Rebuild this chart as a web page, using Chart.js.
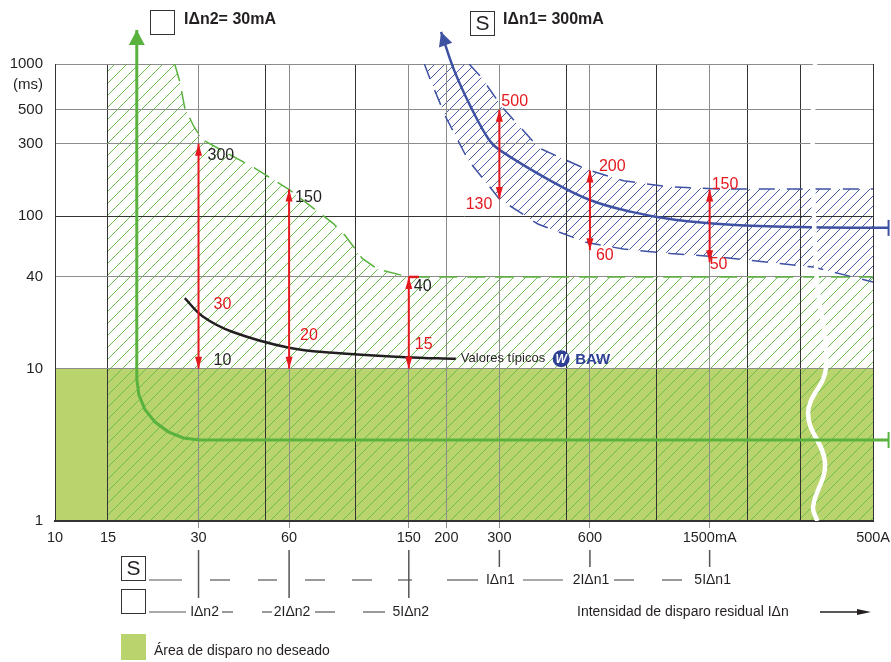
<!DOCTYPE html>
<html>
<head>
<meta charset="utf-8">
<script src="https://cdn.jsdelivr.net/npm/chart.js@4/dist/chart.umd.min.js"></script>
<style>
  html, body { margin: 0; padding: 0; background: #fff; }
</style>
</head>
<body>
<canvas id="trip-chart" width="891" height="662"></canvas>
<script>
const FONT = '"Liberation Sans", Arial, Helvetica, sans-serif';
const INK = "#231f20";
const RED = "#e3191f";
const GREEN = "#5ab23e";
const LIME = "#b9d46c";
const BLUE = "#3f51a3";

// x axis: residual current in mA, broken before the right border which stands for 500 A
const xEnd = 5240;
const xTickValues = [10, 15, 30, 50, 60, 100, 150, 200, 300, 500, 600, 1000, 1500, 2000, 3000, xEnd];
const xTickText = ["10", "15", "30", "", "60", "", "150", "200", "300", "", "600", "", "1500mA", "", "", "500A"];
const xGreyLines = [30, 60, 150, 200, 300, 600, 1500];

// y axis: trip time in ms
const yTickValues = [1, 10, 40, 100, 300, 500, 730, 1000];
const yTickText = ["1", "10", "40", "100", "300", "500", "(ms)", "1000"];

// green hatched zone, 30 mA device (current mA / time ms)
const zoneI = [15, 25, 26, 27, 29, 31, 46, 52, 60, 84, 92, 105, 118, 150, xEnd];
const zoneT = [1000, 1000, 763, 515, 386, 317, 208, 179, 150, 90, 75, 53, 45, 40, 40];

// blue hatched band, selective 300 mA device
const bandLowI = [169, 178, 199, 236, 300, 403, 590, 776, 1111, 1627, 3311, xEnd];
const bandLowT = [1000, 763, 449, 235, 130, 89, 67, 61, 57, 54, 46.5, 37];
const bandHighI = [169, 238, 262, 306, 406, 590, 776, 1111, 1603, xEnd];
const bandHighT = [1000, 1000, 811, 523, 281, 202, 171, 156, 151, 151];

// typical values curve
const typI = [27, 31, 39, 60, 84, 146, 215];
const typT = [29, 22, 17.4, 13.7, 12.7, 11.9, 11.6];

// characteristic arrows
const greenI = [18.7, 18.7, 19.0, 19.9, 21.5, 23.8, 26.7, 30.2, 5900];
const greenT = [1675, 8.56, 6.74, 5.40, 4.46, 3.85, 3.51, 3.40, 3.40];
const blueI = [192, 212, 241, 277, 300, 440, 600, 825, 1150, 1770, 2950, 5900];
const blueT = [1625, 915, 523, 318, 273, 173, 128, 107, 95, 88, 85, 84];

// red range arrows
const arrowI = [30, 60, 150, 300, 600, 1500];
const arrowLo = [10, 10, 10, 130, 60, 50];
const arrowHi = [300, 150, 40, 500, 200, 150];

// axis break
const breakI = [3360, 3300, 3400, 3656, 3187, 3628, 3311, 3420];
const breakT = [1000, 300, 40, 10.2, 5.1, 2.4, 1.24, 1];

// value notes: text, current, time, colour, dx, dy, align
const valueNotes = [
  ["300", 30, 300, INK, 9, 12],
  ["30", 30, 30, RED, 15, 9],
  ["10", 30, 10, INK, 15, -8],
  ["150", 60, 150, INK, 6, 8],
  ["20", 60, 20, RED, 11, 13],
  ["40", 150, 40, INK, 5, 10],
  ["15", 150, 15, RED, 6, 3],
  ["500", 300, 500, RED, 2, -8],
  ["130", 300, 130, RED, -7, 6, "right"],
  ["200", 600, 200, RED, 9, -4],
  ["60", 600, 60, RED, 6, 5],
  ["150", 1500, 150, RED, 2, -5],
  ["50", 1500, 50, RED, 0, 2],
];

const canvas = document.getElementById("trip-chart");

const pts = (xs, ys) => xs.map((x, i) => ({ x: x, y: ys[i] }));
const skipFirst = col => ({ borderColor: c => (c.p0DataIndex === 0 ? "rgba(0,0,0,0)" : col) });

const datasets = [
  { data: pts([10, xEnd], [10, 10]), fill: "start", backgroundColor: LIME, borderWidth: 0, order: 10 },
  {
    data: pts(zoneI, zoneT), fill: false, hatch: { to: "bottom", color: "#6cbf4e", gap: 12 },
    borderColor: GREEN, borderWidth: 1.5, borderDash: [18, 10], segment: skipFirst(GREEN), order: 6,
  },
  {
    data: pts(bandHighI, bandHighT), fill: false, hatch: { to: 3, color: "#4b5cae", gap: 10 },
    borderColor: BLUE, borderWidth: 1.5, borderDash: [16, 12], segment: skipFirst(BLUE), order: 5,
  },
  { data: pts(bandLowI, bandLowT), fill: false, borderColor: BLUE, borderWidth: 1.5, borderDash: [16, 12], order: 5 },
  { data: pts(breakI, breakT), borderColor: "#ffffff", borderWidth: 4.5, tension: 0.4, order: 2 },
  { data: pts(typI, typT), borderColor: INK, borderWidth: 2.5, tension: 0.4, order: 1 },
  {
    data: pts(greenI, greenT), borderColor: GREEN, borderWidth: 3, clip: false, order: 1,
    heads: ["start", "bar"], headSize: [15, 8],
  },
  {
    data: pts(blueI, blueT), borderColor: BLUE, borderWidth: 2.5, tension: 0.4, clip: false, order: 3,
    heads: ["start", "bar"], headSize: [14, 7],
  },
  { data: pts([150, 162], [40, 40]), borderColor: RED, borderWidth: 2.5, order: 0 },
];

arrowI.forEach((cur, i) => {
  datasets.push({
    data: pts([cur, cur], [arrowLo[i], arrowHi[i]]),
    borderColor: RED, borderWidth: 2, order: 0,
    heads: ["start", "end"], headSize: [12, 3.5],
  });
});

// diagonal hatching inside a dataset's area (down to the axis or to another dataset)
const hatching = {
  id: "hatching",
  beforeDraw(chart) {
    const ctx = chart.ctx;
    const a = chart.chartArea;
    chart.data.datasets.forEach((ds, i) => {
      if (!ds.hatch) return;
      const p = chart.getDatasetMeta(i).data;
      ctx.save();
      ctx.beginPath();
      ctx.rect(a.left, a.top, a.right - a.left, a.bottom - a.top);
      ctx.clip();
      ctx.beginPath();
      p.forEach((pt, k) => (k ? ctx.lineTo(pt.x, pt.y) : ctx.moveTo(pt.x, pt.y)));
      if (ds.hatch.to === "bottom") {
        ctx.lineTo(p[p.length - 1].x, a.bottom);
        ctx.lineTo(p[0].x, a.bottom);
      } else {
        const q = chart.getDatasetMeta(ds.hatch.to).data;
        for (let k = q.length - 1; k >= 0; k--) ctx.lineTo(q[k].x, q[k].y);
      }
      ctx.closePath();
      ctx.clip();
      ctx.strokeStyle = ds.hatch.color;
      ctx.lineWidth = 1;
      ctx.beginPath();
      const h = a.bottom - a.top;
      for (let s = a.left - h; s < a.right; s += ds.hatch.gap) {
        ctx.moveTo(s, a.bottom);
        ctx.lineTo(s + h, a.top);
      }
      ctx.stroke();
      ctx.restore();
    });
  },
};

function tri(ctx, tip, from, len, half) {
  const dx = tip.x - from.x, dy = tip.y - from.y;
  const d = Math.hypot(dx, dy) || 1;
  const ux = dx / d, uy = dy / d;
  const bx = tip.x - ux * len, by = tip.y - uy * len;
  ctx.beginPath();
  ctx.moveTo(tip.x, tip.y);
  ctx.lineTo(bx - uy * half, by + ux * half);
  ctx.lineTo(bx + uy * half, by - ux * half);
  ctx.closePath();
  ctx.fill();
}

const heads = {
  id: "heads",
  afterDatasetsDraw(chart) {
    const ctx = chart.ctx;
    chart.data.datasets.forEach((ds, i) => {
      if (!ds.heads) return;
      const p = chart.getDatasetMeta(i).data;
      const n = p.length;
      const [len, half] = ds.headSize;
      ctx.save();
      ctx.fillStyle = ds.borderColor;
      ctx.strokeStyle = ds.borderColor;
      if (ds.heads.includes("start")) tri(ctx, p[0], p[1], len, half);
      if (ds.heads.includes("end")) tri(ctx, p[n - 1], p[n - 2], len, half);
      if (ds.heads.includes("bar")) {
        ctx.lineWidth = 2;
        ctx.beginPath();
        ctx.moveTo(p[n - 1].x, p[n - 1].y - 8);
        ctx.lineTo(p[n - 1].x, p[n - 1].y + 8);
        ctx.stroke();
      }
      ctx.restore();
    });
  },
};

function line(ctx, x1, y1, x2, y2) {
  ctx.beginPath();
  ctx.moveTo(x1, y1);
  ctx.lineTo(x2, y2);
  ctx.stroke();
}

const notes = {
  id: "notes",
  afterDraw(chart) {
    const { ctx } = chart;
    const x = chart.scales.x, y = chart.scales.y;
    ctx.save();
    ctx.textBaseline = "middle";

    valueNotes.forEach(([txt, cur, t, col, dx, dy, al]) => {
      ctx.font = `16px ${FONT}`;
      ctx.fillStyle = col;
      ctx.textAlign = al || "left";
      ctx.fillText(txt, x.getPixelForValue(cur) + dx, y.getPixelForValue(t) + dy);
    });

    // typical values label and logo
    const tx = x.getPixelForValue(typI[typI.length - 1]) + 5;
    const ty = y.getPixelForValue(typT[typT.length - 1]);
    ctx.textAlign = "left";
    ctx.font = `13px ${FONT}`;
    ctx.fillStyle = INK;
    ctx.fillText("Valores típicos", tx, ty);
    const cx = tx + ctx.measureText("Valores típicos").width + 16;
    ctx.fillStyle = "#2e3f95";
    ctx.beginPath();
    ctx.arc(cx, ty, 8.5, 0, Math.PI * 2);
    ctx.fill();
    ctx.fillStyle = "#fff";
    ctx.font = `italic bold 12px ${FONT}`;
    ctx.textAlign = "center";
    ctx.fillText("W", cx, ty + 1);
    ctx.fillStyle = "#2e3f95";
    ctx.font = `bold 15px ${FONT}`;
    ctx.textAlign = "left";
    ctx.fillText("BAW", cx + 14, ty + 1);

    // headers
    ctx.strokeStyle = "#333";
    ctx.lineWidth = 1;
    ctx.strokeRect(150.5, 10.5, 24, 24);
    ctx.strokeRect(470.5, 11.5, 24, 24);
    ctx.fillStyle = INK;
    ctx.font = `bold 16px ${FONT}`;
    ctx.fillText("IΔn2= 30mA", 184, 20);
    ctx.fillText("IΔn1= 300mA", 503, 20);
    ctx.font = `21px ${FONT}`;
    ctx.textAlign = "center";
    ctx.fillText("S", 482.5, 24.5);

    // multiples rows under the axis
    ctx.strokeRect(121.5, 556.5, 24, 24);
    ctx.strokeRect(121.5, 589.5, 24, 24);
    ctx.fillText("S", 133.5, 569.5);
    ctx.strokeStyle = "#555";
    ctx.lineWidth = 1.5;
    [30, 60, 150].forEach(v => line(ctx, x.getPixelForValue(v), 550, x.getPixelForValue(v), 598));
    [300, 600, 1500].forEach(v => line(ctx, x.getPixelForValue(v), 550, x.getPixelForValue(v), 567));
    ctx.lineWidth = 1.2;
    [[149, 182], [210, 230], [258, 277], [305, 325], [352, 372], [398, 412], [447, 478],
     [523, 563], [614, 634], [662, 682]].forEach(([a, b]) => line(ctx, a, 580, b, 580));
    [[149, 186], [222, 233], [262, 272], [315, 335], [363, 385]].forEach(([a, b]) => line(ctx, a, 612, b, 612));
    ctx.fillStyle = INK;
    ctx.font = `14px ${FONT}`;
    ctx.textAlign = "center";
    ctx.fillText("IΔn2", x.getPixelForValue(30) + 6, 612);
    ctx.fillText("2IΔn2", x.getPixelForValue(60) + 3, 612);
    ctx.fillText("5IΔn2", x.getPixelForValue(150) + 2, 612);
    ctx.fillText("IΔn1", x.getPixelForValue(300) + 1, 580);
    ctx.fillText("2IΔn1", x.getPixelForValue(600) + 1, 580);
    ctx.fillText("5IΔn1", x.getPixelForValue(1500) + 3, 580);

    // axis title with arrow
    ctx.textAlign = "left";
    ctx.fillText("Intensidad de disparo residual IΔn", 577, 612);
    ctx.strokeStyle = INK;
    ctx.lineWidth = 1.5;
    line(ctx, 820, 612, 860, 612);
    ctx.fillStyle = INK;
    tri(ctx, { x: 871, y: 612 }, { x: 820, y: 612 }, 14, 3);

    // legend
    ctx.fillStyle = LIME;
    ctx.fillRect(121, 634, 25, 26);
    ctx.fillStyle = INK;
    ctx.fillText("Área de disparo no deseado", 154, 651);
    ctx.restore();
  },
};

const config = {
  type: "line",
  data: { datasets: datasets },
  options: {
    responsive: false,
    animation: false,
    events: [],
    layout: { padding: { top: 64, right: 16, left: 0, bottom: 0 } },
    elements: { point: { radius: 0, hoverRadius: 0 }, line: { tension: 0, borderCapStyle: "butt" } },
    plugins: {
      legend: { display: false },
      tooltip: { enabled: false },
      filler: { drawTime: "beforeDraw", propagate: false },
    },
    scales: {
      x: {
        type: "logarithmic",
        min: 10,
        max: xEnd,
        afterBuildTicks: s => { s.ticks = xTickValues.map(v => ({ value: v })); },
        afterFit: s => { s.height = 141; },
        ticks: {
          autoSkip: false,
          maxRotation: 0,
          padding: 1,
          color: INK,
          font: { family: FONT, size: 14.5 },
          callback: v => xTickText[xTickValues.indexOf(v)],
        },
        grid: {
          color: c => (xGreyLines.includes(c.tick.value) ? "#8c8c8c" : "#333"),
          tickColor: c => (xGreyLines.includes(c.tick.value) ? "#8c8c8c" : "rgba(0,0,0,0)"),
          tickLength: 7,
          lineWidth: 1,
        },
        border: { color: "#333", width: 2 },
      },
      y: {
        type: "logarithmic",
        min: 1,
        max: 1000,
        afterBuildTicks: s => { s.ticks = yTickValues.map(v => ({ value: v })); },
        afterFit: s => { s.width = 55; },
        ticks: {
          padding: 12,
          color: INK,
          font: { family: FONT, size: 15 },
          callback: v => yTickText[yTickValues.indexOf(v)],
        },
        grid: {
          color: c => (c.tick.value === 730 ? "rgba(0,0,0,0)" : c.tick.value === 100 ? "#333" : "#8c8c8c"),
          drawTicks: false,
          lineWidth: 1,
        },
        border: { color: "#333", width: 1 },
      },
    },
  },
  plugins: [hatching, heads, notes],
};

new Chart(canvas, config);
</script>
</body>
</html>
